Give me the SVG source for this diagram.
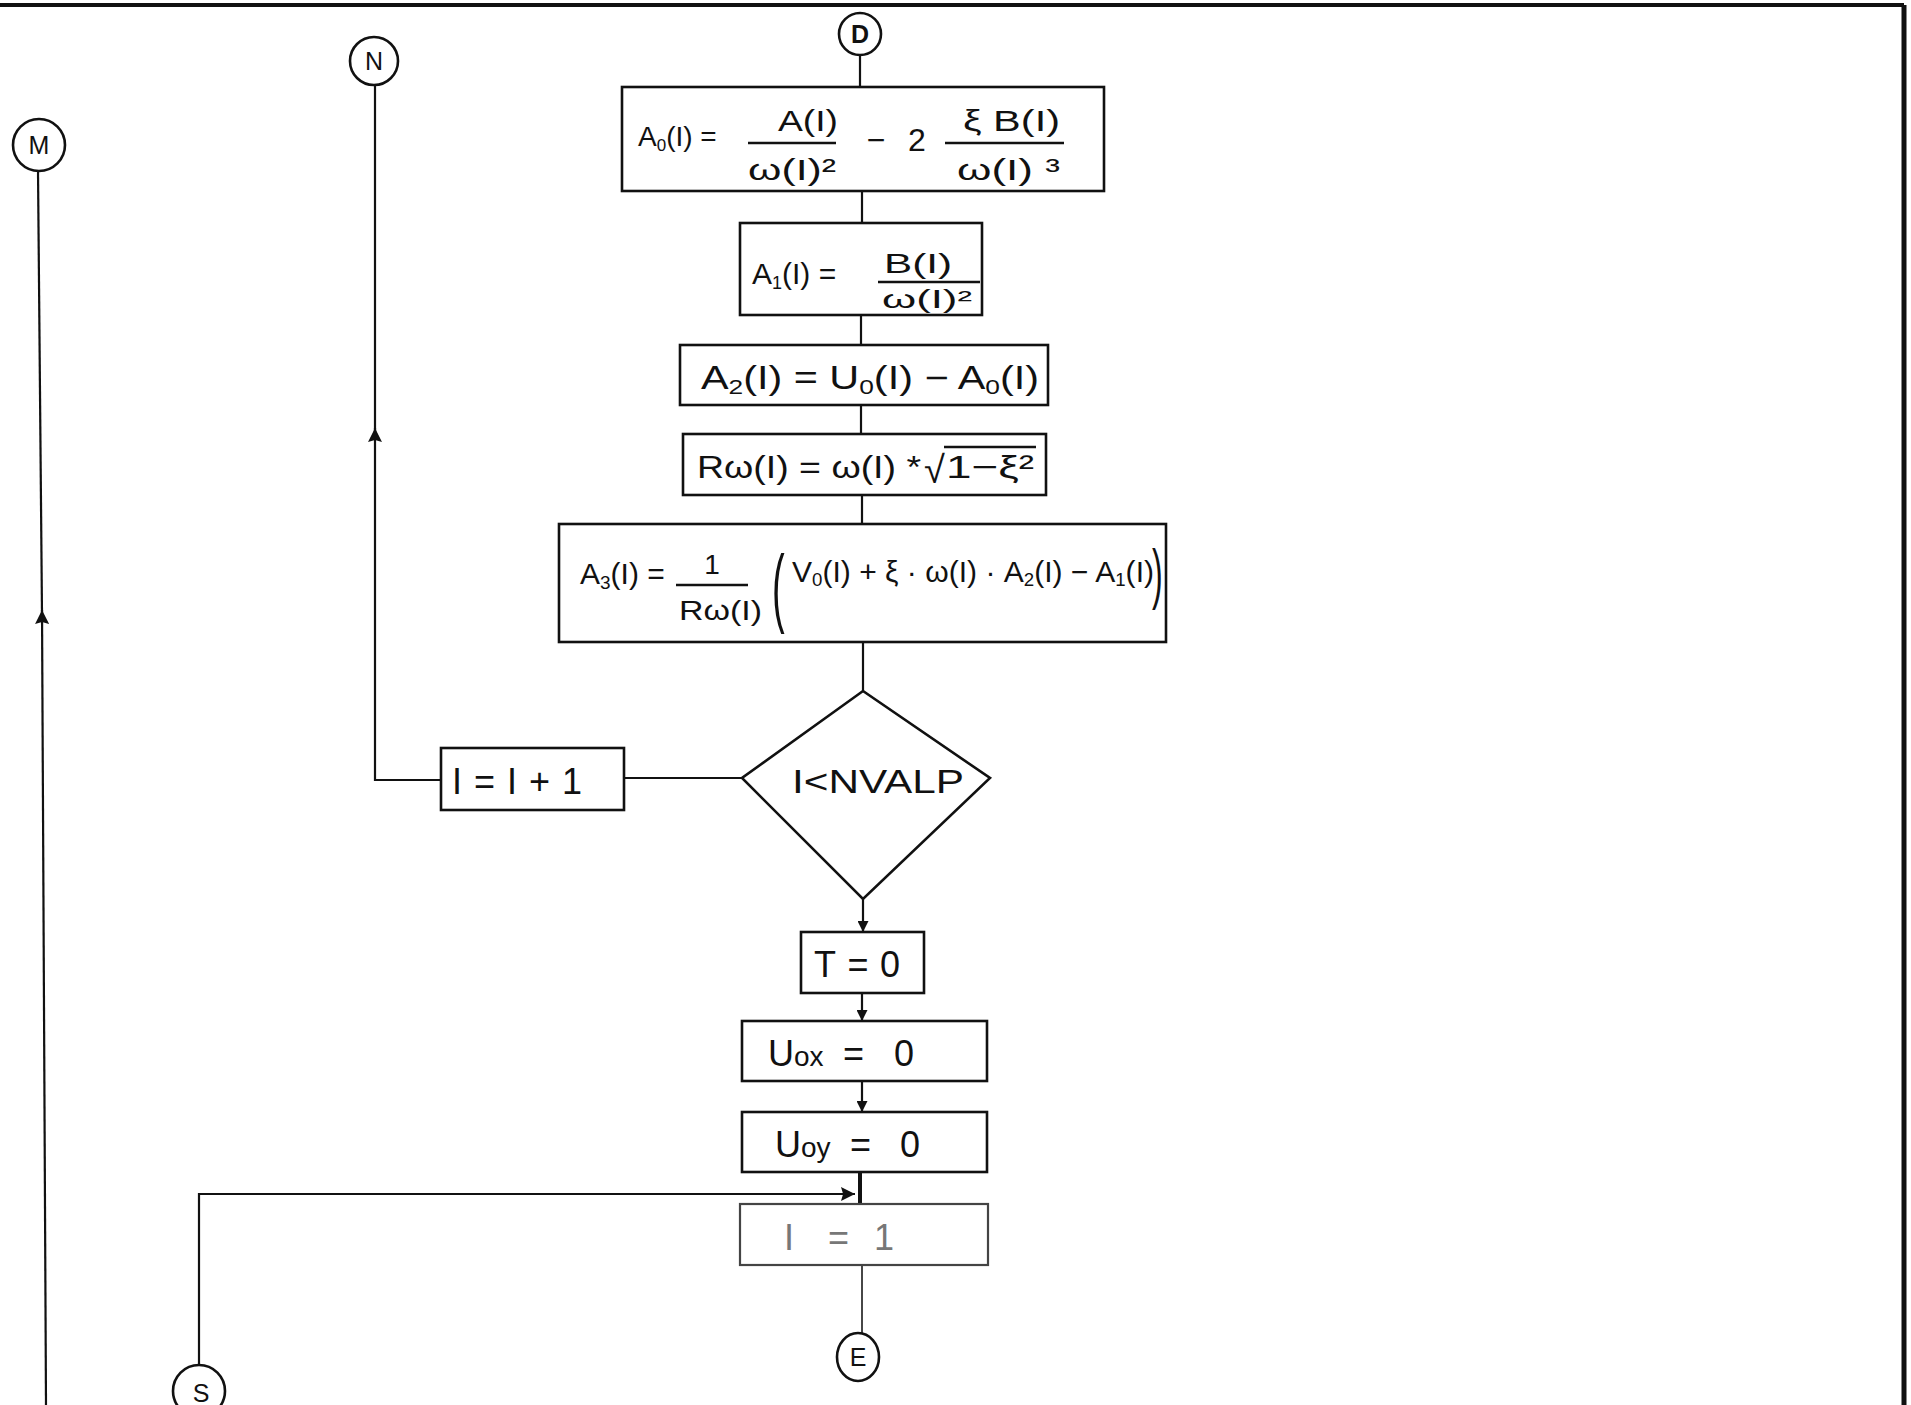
<svg xmlns="http://www.w3.org/2000/svg" width="1911" height="1405" viewBox="0 0 1911 1405">
<style>
text{font-family:"Liberation Sans","DejaVu Sans",sans-serif;fill:#111}
.box{fill:none;stroke:#111;stroke-width:2.6}
.conn{fill:none;stroke:#111;stroke-width:2.2}
.bar{stroke:#111;stroke-width:2.4}
.circ{fill:none;stroke:#111;stroke-width:2.6}
.lbl{font-size:25px;text-anchor:middle}
.big{font-size:36px}
</style>
<defs>
<marker id="ah" viewBox="0 0 10 10" refX="10" refY="5" markerWidth="14" markerHeight="11" markerUnits="userSpaceOnUse" orient="auto">
<path d="M0,0 L10,5 L0,10 z" fill="#111"/>
</marker>
<marker id="ahL" viewBox="0 0 10 10" refX="10" refY="5" markerWidth="24" markerHeight="14" markerUnits="userSpaceOnUse" orient="auto">
<path d="M0,0 L10,5 L0,10 L1.5,5 z" fill="#111"/>
</marker>
</defs>
<rect width="1911" height="1405" fill="#ffffff"/>
<g id="frame">
<line x1="0" y1="5" x2="1904" y2="5" stroke="#111" stroke-width="4"/>
<line x1="1904" y1="5" x2="1904" y2="1405" stroke="#111" stroke-width="5"/>
</g>
<g id="connectors">
<line class="conn" x1="860" y1="55" x2="860" y2="87"/>
<line class="conn" x1="862" y1="191" x2="862" y2="223"/>
<line class="conn" x1="861" y1="315" x2="861" y2="345"/>
<line class="conn" x1="861" y1="405" x2="861" y2="434"/>
<line class="conn" x1="862" y1="495" x2="862" y2="524"/>
<line class="conn" x1="863" y1="642" x2="863" y2="691"/>
<line class="conn" x1="863" y1="899" x2="863" y2="932" marker-end="url(#ah)"/>
<line class="conn" x1="862" y1="993" x2="862" y2="1021" marker-end="url(#ah)"/>
<line class="conn" x1="862" y1="1081" x2="862" y2="1112" marker-end="url(#ah)"/>
<line x1="860" y1="1172" x2="860" y2="1204" stroke="#111" stroke-width="4"/>
<line x1="862" y1="1265" x2="862" y2="1333" stroke="#333" stroke-width="1.8"/>
<line class="conn" x1="742" y1="778" x2="624" y2="778"/>
<path class="conn" d="M441,780 H375 V428" marker-end="url(#ahL)"/>
<line class="conn" x1="375" y1="432" x2="375" y2="85"/>
<path class="conn" d="M46,1405 L42,610" marker-end="url(#ahL)"/>
<line class="conn" x1="42" y1="614" x2="38" y2="171"/>
<path class="conn" d="M199,1364 V1194 H855" marker-end="url(#ahL)"/>
</g>
<g id="D"><circle class="circ" cx="860" cy="34" r="21"/><text class="lbl" x="860" y="43" font-weight="bold">D</text></g>
<g id="N"><circle class="circ" cx="374" cy="61" r="24"/><text class="lbl" x="374" y="70">N</text></g>
<g id="M"><circle class="circ" cx="39" cy="145" r="26"/><text class="lbl" x="39" y="154">M</text></g>
<g id="E"><ellipse class="circ" cx="858" cy="1357" rx="21" ry="24"/><text class="lbl" x="858" y="1366">E</text></g>
<g id="S"><circle class="circ" cx="199" cy="1391" r="26"/><text class="lbl" x="201" y="1402" font-size="30">S</text></g>
<g id="box-A0">
<rect class="box" x="622" y="87" width="482" height="104"/>
<text x="638" y="146" font-size="28">A<tspan font-size="17" dy="5">0</tspan><tspan dy="-5">(I) =</tspan></text>
<text x="778" y="131" font-size="30" textLength="60" lengthAdjust="spacingAndGlyphs">A(I)</text>
<line class="bar" x1="748" y1="143" x2="836" y2="143"/>
<text x="748" y="180" font-size="30" textLength="88" lengthAdjust="spacingAndGlyphs">ω(I)²</text>
<text x="876" y="151" font-size="32" text-anchor="middle">−</text>
<text x="917" y="151" font-size="32" text-anchor="middle">2</text>
<text x="963" y="131" font-size="30" textLength="97" lengthAdjust="spacingAndGlyphs">ξ B(I)</text>
<line class="bar" x1="945" y1="143" x2="1064" y2="143"/>
<text x="957" y="180" font-size="30" textLength="103" lengthAdjust="spacingAndGlyphs">ω(I) ³</text>
</g>
<g id="box-A1">
<rect class="box" x="740" y="223" width="242" height="92"/>
<text x="752" y="284" font-size="30">A<tspan font-size="18" dy="5">1</tspan><tspan dy="-5">(I) =</tspan></text>
<text x="884" y="273" font-size="28" textLength="68" lengthAdjust="spacingAndGlyphs">B(I)</text>
<line class="bar" x1="878" y1="282" x2="980" y2="282"/>
<text x="882" y="308" font-size="26" textLength="90" lengthAdjust="spacingAndGlyphs">ω(I)²</text>
</g>
<g id="box-A2">
<rect class="box" x="680" y="345" width="368" height="60"/>
<text x="701" y="389" font-size="33" textLength="338" lengthAdjust="spacingAndGlyphs">A<tspan font-size="21" dy="5">2</tspan><tspan dy="-5">(I) = U</tspan><tspan font-size="21" dy="5">0</tspan><tspan dy="-5">(I) − A</tspan><tspan font-size="21" dy="5">0</tspan><tspan dy="-5">(I)</tspan></text>
</g>
<g id="box-Rw">
<rect class="box" x="683" y="434" width="363" height="61"/>
<text x="697" y="478" font-size="32" textLength="224" lengthAdjust="spacingAndGlyphs">Rω(I) = ω(I) *</text>
<text x="924" y="483" font-size="38">√</text>
<text x="946" y="478" font-size="32" textLength="88" lengthAdjust="spacingAndGlyphs">1−ξ²</text>
<line class="bar" x1="944" y1="447" x2="1036" y2="447"/>
</g>
<g id="box-A3">
<rect class="box" x="559" y="524" width="607" height="118"/>
<text x="580" y="584" font-size="30">A<tspan font-size="19" dy="5">3</tspan><tspan dy="-5">(I) =</tspan></text>
<text x="712" y="574" font-size="28" text-anchor="middle">1</text>
<line class="bar" x1="676" y1="585" x2="748" y2="585"/>
<text x="679" y="620" font-size="27" textLength="83" lengthAdjust="spacingAndGlyphs">Rω(I)</text>
<text transform="translate(772,616) scale(1,2.3)" font-size="38">(</text>
<text x="792" y="582" font-size="29" textLength="362" lengthAdjust="spacingAndGlyphs">V<tspan font-size="18" dy="4">0</tspan><tspan dy="-4">(I) + ξ · ω(I) · A</tspan><tspan font-size="18" dy="4">2</tspan><tspan dy="-4">(I) − A</tspan><tspan font-size="18" dy="4">1</tspan><tspan dy="-4">(I)</tspan></text>
<text transform="translate(1152,596) scale(1,2.1)" font-size="32">)</text>
</g>
<g id="decision">
<polygon class="box" points="863,691 990,778 863,899 742,778"/>
<text x="792" y="793" font-size="34" textLength="172" lengthAdjust="spacingAndGlyphs">I&lt;NVALP</text>
</g>
<g id="box-inc">
<rect class="box" x="441" y="748" width="183" height="62"/>
<text x="452" y="794" font-size="36" textLength="130" lengthAdjust="spacing">I=I+1</text>
</g>
<g id="box-T">
<rect class="box" x="801" y="932" width="123" height="61"/>
<text x="814" y="977" font-size="36" textLength="86" lengthAdjust="spacing">T=0</text>
</g>
<g id="box-Uox">
<rect class="box" x="742" y="1021" width="245" height="60"/>
<text class="big" x="768" y="1066">U<tspan font-size="28">ox</tspan><tspan x="843">=</tspan><tspan x="894">0</tspan></text>
</g>
<g id="box-Uoy">
<rect class="box" x="742" y="1112" width="245" height="60"/>
<text class="big" x="775" y="1157">U<tspan font-size="28">oy</tspan><tspan x="850">=</tspan><tspan x="900">0</tspan></text>
</g>
<g id="box-I1">
<rect x="740" y="1204" width="248" height="61" fill="none" stroke="#444" stroke-width="2.2"/>
<text class="big" x="784" y="1250" style="fill:#777">I<tspan x="828">=</tspan><tspan x="874">1</tspan></text>
</g>
</svg>
